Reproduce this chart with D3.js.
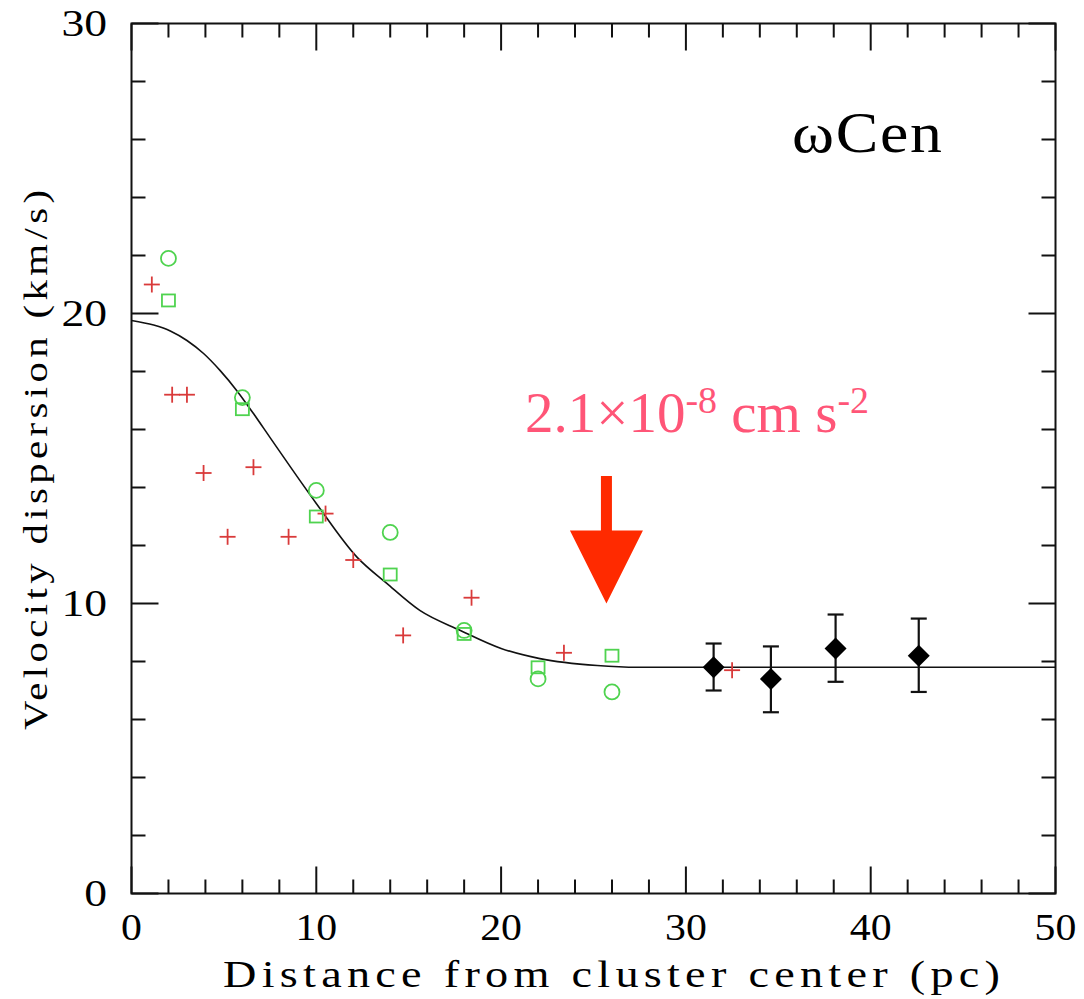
<!DOCTYPE html>
<html>
<head>
<meta charset="utf-8">
<script src="https://cdn.jsdelivr.net/npm/d3@7"></script>
<style>
  body { margin: 0; background: #fff; }
  svg { display: block; }
</style>
</head>
<body>
<div id="chart"></div>
<script>

// radius (pc) and velocity dispersion (km/s)
var plusX = [1.1, 2.2, 3.0, 3.9, 5.2, 6.6, 8.5, 10.5, 12.0, 14.7, 18.4, 23.4, 32.5];
var plusY = [21.0, 17.2, 17.2, 14.5, 12.3, 14.7, 12.3, 13.1, 11.5, 8.9, 10.2, 8.3, 7.7];

var circleX = [2, 6, 10, 14, 18, 22, 26];
var circleY = [21.9, 17.1, 13.9, 12.45, 9.07, 7.4, 6.95];

var squareX = [2, 6, 10, 14, 18, 22, 26];
var squareY = [20.45, 16.7, 13.0, 11.0, 8.95, 7.8, 8.2];

var diamondX = [31.5, 34.6, 38.1, 42.6];
var diamondY = [7.8, 7.4, 8.45, 8.2];
var diamondLo = [7.0, 6.25, 7.3, 6.95];
var diamondHi = [8.62, 8.52, 9.62, 9.48];

// model curve
var curveX = [0, 1.2, 2.1, 3.0, 3.9, 4.8, 5.7, 6.6, 7.5, 10.0, 12.2, 13.8, 15.6, 17.8, 20.0, 22.1, 25.2, 27.4, 35, 50];
var curveY = [19.76, 19.6, 19.4, 19.07, 18.62, 18.03, 17.34, 16.55, 15.72, 13.45, 11.6, 10.7, 9.76, 9.07, 8.45, 8.1, 7.86, 7.8, 7.8, 7.8];

var xTicks = [0, 10, 20, 30, 40, 50];
var yTicks = [0, 10, 20, 30];
var minorStep = 2;

var arrowX = 25.7, arrowTipY = 10.0, arrowTailY = 14.4;

var width = 1084, height = 999;

var svg = d3.select('#chart').append('svg')
  .attr('width', width)
  .attr('height', height);

var x = d3.scaleLinear().domain([0, 50]).range([131.5, 1055.5]);
var y = d3.scaleLinear().domain([0, 30]).range([893.5, 23.5]);

var serif = "'Liberation Serif', 'Times New Roman', serif";

// frame
svg.append('rect')
  .attr('x', x(0)).attr('y', y(30))
  .attr('width', x(50) - x(0)).attr('height', y(0) - y(30))
  .attr('fill', 'none')
  .attr('stroke', '#111')
  .attr('stroke-width', 2);

// ticks on all four sides, pointing inward
var xMinor = d3.range(0, 50 + 0.001, minorStep);
var yMinor = d3.range(0, 30 + 0.001, minorStep);
function tickLen(v) { return v % 10 === 0 ? 27 : 14; }

var ticks = svg.append('g').attr('stroke', '#111').attr('stroke-width', 2);

ticks.selectAll('.xb').data(xMinor).enter().append('line')
  .attr('x1', function(d) { return x(d); })
  .attr('x2', function(d) { return x(d); })
  .attr('y1', y(0))
  .attr('y2', function(d) { return y(0) - tickLen(d); });

ticks.selectAll('.xt').data(xMinor).enter().append('line')
  .attr('x1', function(d) { return x(d); })
  .attr('x2', function(d) { return x(d); })
  .attr('y1', y(30))
  .attr('y2', function(d) { return y(30) + tickLen(d); });

ticks.selectAll('.yl').data(yMinor).enter().append('line')
  .attr('y1', function(d) { return y(d); })
  .attr('y2', function(d) { return y(d); })
  .attr('x1', x(0))
  .attr('x2', function(d) { return x(0) + tickLen(d); });

ticks.selectAll('.yr').data(yMinor).enter().append('line')
  .attr('y1', function(d) { return y(d); })
  .attr('y2', function(d) { return y(d); })
  .attr('x1', x(50))
  .attr('x2', function(d) { return x(50) - tickLen(d); });

// tick labels (slightly widened serif digits)
svg.append('g').selectAll('text').data(xTicks).enter().append('text')
  .attr('transform', function(d) { return 'translate(' + x(d) + ',940) scale(1.1,1)'; })
  .attr('text-anchor', 'middle')
  .style('font-family', serif)
  .style('font-size', '38px')
  .text(function(d) { return d; });

svg.append('g').selectAll('text').data(yTicks).enter().append('text')
  .attr('transform', function(d) { return 'translate(107,' + (y(d) + 12.5) + ') scale(1.2,1)'; })
  .attr('text-anchor', 'end')
  .style('font-family', serif)
  .style('font-size', '38px')
  .text(function(d) { return d; });

// axis titles: widened glyphs, stretched to the reference extent
svg.append('text')
  .attr('transform', 'translate(223,987) scale(1.25,1)')
  .attr('textLength', 777 / 1.25)
  .attr('lengthAdjust', 'spacing')
  .style('font-family', serif)
  .style('font-size', '37px')
  .text('Distance from cluster center (pc)');

svg.append('text')
  .attr('transform', 'translate(47,730) rotate(-90) scale(1.2,1)')
  .attr('textLength', 540 / 1.2)
  .attr('lengthAdjust', 'spacing')
  .style('font-family', serif)
  .style('font-size', '34px')
  .text('Velocity dispersion (km/s)');

svg.append('text')
  .attr('transform', 'translate(792,152) scale(1.1,1)')
  .attr('textLength', 150 / 1.1)
  .attr('lengthAdjust', 'spacing')
  .style('font-family', serif)
  .style('font-size', '58px')
  .text('ωCen');

// model curve
var line = d3.line()
  .x(function(d) { return x(d[0]); })
  .y(function(d) { return y(d[1]); })
  .curve(d3.curveMonotoneX);

svg.append('path')
  .attr('d', line(d3.zip(curveX, curveY)))
  .attr('fill', 'none')
  .attr('stroke', '#111')
  .attr('stroke-width', 1.6);

// red crosses
var plusG = svg.append('g').attr('stroke', '#d93a3a').attr('stroke-width', 1.8);
d3.zip(plusX, plusY).forEach(function(p) {
  plusG.append('line')
    .attr('x1', x(p[0]) - 8).attr('x2', x(p[0]) + 8)
    .attr('y1', y(p[1])).attr('y2', y(p[1]));
  plusG.append('line')
    .attr('x1', x(p[0])).attr('x2', x(p[0]))
    .attr('y1', y(p[1]) - 8).attr('y2', y(p[1]) + 8);
});

// green circles and squares
svg.append('g').selectAll('circle').data(d3.zip(circleX, circleY)).enter().append('circle')
  .attr('cx', function(d) { return x(d[0]); })
  .attr('cy', function(d) { return y(d[1]); })
  .attr('r', 7.5)
  .attr('fill', 'none')
  .attr('stroke', '#4fd34f')
  .attr('stroke-width', 1.8);

svg.append('g').selectAll('rect').data(d3.zip(squareX, squareY)).enter().append('rect')
  .attr('x', function(d) { return x(d[0]) - 6.5; })
  .attr('y', function(d) { return y(d[1]) - 6; })
  .attr('width', 13)
  .attr('height', 12)
  .attr('fill', 'none')
  .attr('stroke', '#4fd34f')
  .attr('stroke-width', 1.8);

// black diamonds with error bars
var dia = svg.append('g');
diamondX.forEach(function(dx, i) {
  var cx = x(dx);
  dia.append('line')
    .attr('x1', cx).attr('x2', cx)
    .attr('y1', y(diamondLo[i])).attr('y2', y(diamondHi[i]))
    .attr('stroke', '#111').attr('stroke-width', 2.2);
  [diamondLo[i], diamondHi[i]].forEach(function(v) {
    dia.append('line')
      .attr('x1', cx - 8).attr('x2', cx + 8)
      .attr('y1', y(v)).attr('y2', y(v))
      .attr('stroke', '#111').attr('stroke-width', 2.2);
  });
  var cy = y(diamondY[i]);
  dia.append('path')
    .attr('d', 'M' + (cx - 11) + ',' + cy + 'L' + cx + ',' + (cy - 11) +
      'L' + (cx + 11) + ',' + cy + 'L' + cx + ',' + (cy + 11) + 'Z')
    .attr('fill', '#000');
});

// annotation arrow
var ax = x(arrowX), tip = y(arrowTipY), tail = y(arrowTailY);
svg.append('path')
  .attr('d', 'M' + (ax - 5.5) + ',' + tail + 'L' + (ax + 5.5) + ',' + tail +
    'L' + (ax + 5.5) + ',' + (tip - 73) + 'L' + (ax + 36.5) + ',' + (tip - 73) +
    'L' + ax + ',' + tip + 'L' + (ax - 36.5) + ',' + (tip - 73) +
    'L' + (ax - 5.5) + ',' + (tip - 73) + 'Z')
  .attr('fill', '#ff2a00');

var note = svg.append('text')
  .attr('x', 525)
  .attr('y', 432)
  .attr('fill', '#ff5577')
  .style('font-family', serif)
  .style('font-size', '57px');
note.append('tspan').text('2.1×10');
note.append('tspan').attr('dy', -19).style('font-size', '38px').text('-8');
note.append('tspan').attr('dy', 19).text(' cm s');
note.append('tspan').attr('dy', -19).style('font-size', '38px').text('-2');

</script>
</body>
</html>
